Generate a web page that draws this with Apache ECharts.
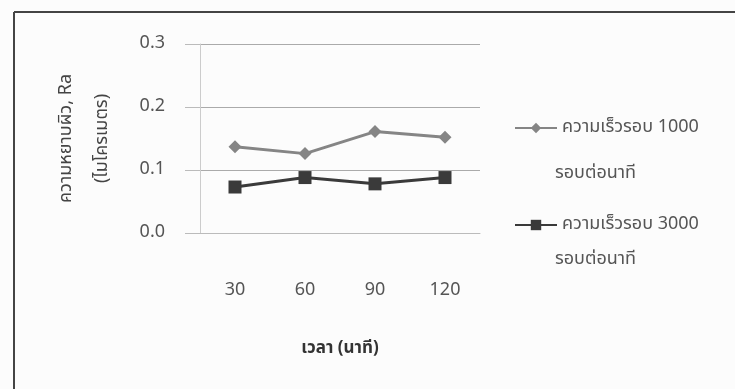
<!DOCTYPE html>
<html>
<head>
<meta charset="utf-8">
<script src="https://cdn.jsdelivr.net/npm/echarts@6/dist/echarts.min.js"></script>
<style>
  html, body { margin: 0; padding: 0; background: #fcfcfc; }
  #chart { width: 735px; height: 389px; }
</style>
</head>
<body>
<div id="chart"></div>
<script>
// เวลา (นาที)
var categories = ['30', '60', '90', '120'];
// ความหยาบผิว Ra (ไมโครเมตร)
var speed1000 = [0.137, 0.126, 0.161, 0.152];
var speed3000 = [0.073, 0.088, 0.078, 0.088];
var yTicks = [0.0, 0.1, 0.2, 0.3];

var seriesNames = ['ความเร็วรอบ 1000', 'ความเร็วรอบ 3000'];
var font = '"Noto Sans Thai", "Noto Sans", "DejaVu Sans", sans-serif';

var chart = echarts.init(document.getElementById('chart'));

var option = {
    backgroundColor: '#fcfcfc',
    animation: false,
    textStyle: { fontFamily: font },
    grid: { left: 200, right: 255, top: 44, bottom: 156, outerBoundsMode: 'none' },
    legend: {
        orient: 'vertical',
        left: 509,
        top: 114,
        itemWidth: 42,
        itemHeight: 13,
        itemGap: 79,
        data: seriesNames,
        textStyle: { fontSize: 18, color: '#555', fontFamily: font }
    },
    graphic: [
        // กรอบภาพ
        { type: 'line', shape: { x1: 14, y1: 12, x2: 14, y2: 389 }, style: { stroke: '#444', lineWidth: 2 } },
        { type: 'line', shape: { x1: 14, y1: 12, x2: 735, y2: 12 }, style: { stroke: '#444', lineWidth: 2 } },
        // บรรทัดที่สองของคำอธิบาย
        { type: 'text', left: 555, top: 165, style: { text: 'รอบต่อนาที', fill: '#555', font: '18px ' + font } },
        { type: 'text', left: 555, top: 251, style: { text: 'รอบต่อนาที', fill: '#555', font: '18px ' + font } }
    ],
    xAxis: {
        type: 'category',
        data: categories,
        boundaryGap: true,
        name: 'เวลา (นาที)',
        nameLocation: 'middle',
        nameGap: 108,
        nameMoveOverlap: false,
        nameTextStyle: { fontSize: 17, fontWeight: 'bold', color: '#333' },
        axisLine: { lineStyle: { color: '#bbb', width: 1 } },
        axisTick: { show: false },
        axisLabel: { fontSize: 18, color: '#555', margin: 49 }
    },
    yAxis: {
        type: 'value',
        min: 0,
        max: 0.3,
        interval: 0.1,
        name: 'ความหยาบผิว, Ra\n(ไมโครเมตร)',
        nameLocation: 'middle',
        nameRotate: 90,
        nameGap: 79,
        nameMoveOverlap: false,
        nameTextStyle: { fontSize: 18, color: '#444', lineHeight: 36 },
        axisLine: { show: true, lineStyle: { color: '#ccc' } },
        axisTick: { show: true, inside: false, length: 15, lineStyle: { color: '#bbb' } },
        splitLine: { lineStyle: { color: '#aaa', width: 1 } },
        axisLabel: {
            fontSize: 18, color: '#555', margin: 35,
            formatter: function (v) {
                for (var i = 0; i < yTicks.length; i++) {
                    if (Math.abs(yTicks[i] - v) < 1e-9) return yTicks[i].toFixed(1);
                }
                return '';
            }
        }
    },
    series: [
        {
            name: seriesNames[0],
            type: 'line',
            data: speed1000,
            symbol: 'diamond',
            symbolSize: 13,
            itemStyle: { color: '#858585' },
            lineStyle: { color: '#858585', width: 3 }
        },
        {
            name: seriesNames[1],
            type: 'line',
            data: speed3000,
            symbol: 'rect',
            symbolSize: 13,
            itemStyle: { color: '#3a3a3a' },
            lineStyle: { color: '#3a3a3a', width: 3 }
        }
    ]
};

chart.setOption(option);
</script>
</body>
</html>
